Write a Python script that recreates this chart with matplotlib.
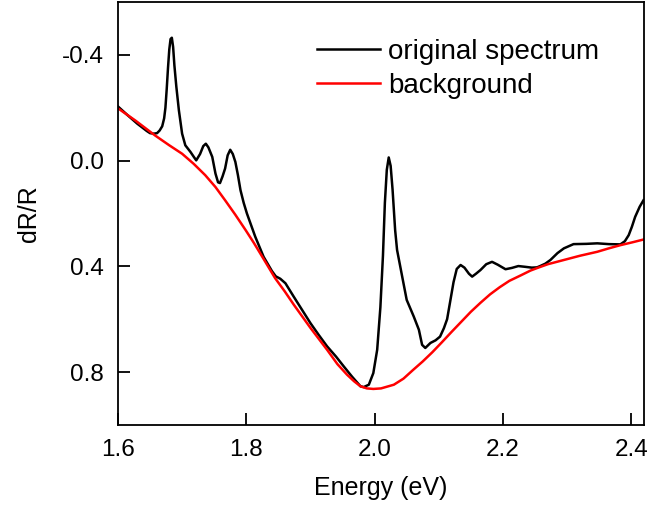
import matplotlib
matplotlib.use('Agg')
import matplotlib.pyplot as plt
import numpy as np

plt.rcParams['font.family'] = ['Liberation Sans', 'DejaVu Sans']

# original spectrum
energy = [1.600, 1.615, 1.630, 1.645, 1.650, 1.656, 1.661, 1.665, 1.669, 1.672,
          1.674, 1.676, 1.678, 1.680, 1.682, 1.684, 1.686, 1.688, 1.691, 1.695,
          1.700, 1.705, 1.713, 1.718, 1.722, 1.728, 1.733, 1.737, 1.741, 1.747,
          1.752, 1.756, 1.759, 1.763, 1.767, 1.771, 1.775, 1.779, 1.783, 1.787,
          1.791, 1.796, 1.801, 1.814, 1.827, 1.840, 1.846, 1.853, 1.861, 1.874,
          1.887, 1.900, 1.913, 1.926, 1.940, 1.952, 1.965, 1.978, 1.983, 1.991,
          1.998, 2.004, 2.009, 2.013, 2.016, 2.019, 2.022, 2.025, 2.028, 2.032,
          2.035, 2.043, 2.050, 2.061, 2.069, 2.074, 2.079, 2.087, 2.095, 2.102,
          2.108, 2.113, 2.118, 2.123, 2.128, 2.134, 2.140, 2.147, 2.152, 2.158,
          2.165, 2.174, 2.183, 2.192, 2.204, 2.214, 2.224, 2.235, 2.245, 2.253,
          2.258, 2.266, 2.274, 2.285, 2.295, 2.310, 2.330, 2.347, 2.365, 2.383,
          2.390, 2.396, 2.401, 2.406, 2.413, 2.419]
spectrum = [-0.205, -0.172, -0.140, -0.112, -0.104, -0.102, -0.104, -0.114, -0.130, -0.160,
            -0.200, -0.270, -0.350, -0.420, -0.460, -0.465, -0.430, -0.360, -0.280, -0.190,
            -0.102, -0.058, -0.033, -0.015, -0.001, -0.025, -0.055, -0.064, -0.050, -0.014,
            0.049, 0.082, 0.085, 0.060, 0.030, -0.020, -0.041, -0.025, 0.005, 0.055,
            0.112, 0.160, 0.200, 0.288, 0.364, 0.418, 0.438, 0.447, 0.464, 0.515,
            0.565, 0.615, 0.660, 0.703, 0.742, 0.779, 0.818, 0.854, 0.857, 0.848,
            0.804, 0.716, 0.555, 0.360, 0.160, 0.035, -0.012, 0.020, 0.110, 0.263,
            0.338, 0.439, 0.527, 0.590, 0.640, 0.697, 0.709, 0.690, 0.680, 0.666,
            0.634, 0.600, 0.530, 0.460, 0.410, 0.395, 0.405, 0.428, 0.439, 0.428,
            0.414, 0.392, 0.383, 0.394, 0.411, 0.406, 0.399, 0.402, 0.405, 0.404,
            0.399, 0.390, 0.376, 0.350, 0.332, 0.316, 0.315, 0.313, 0.316, 0.317,
            0.305, 0.282, 0.250, 0.213, 0.175, 0.150]

# background fit
bg_energy = [1.600, 1.627, 1.658, 1.680, 1.700, 1.718, 1.736, 1.752, 1.767, 1.783,
             1.799, 1.812, 1.825, 1.845, 1.860, 1.874, 1.900, 1.926, 1.942, 1.957,
             1.968, 1.978, 1.988, 1.998, 2.010, 2.030, 2.045, 2.060, 2.075, 2.090,
             2.105, 2.120, 2.135, 2.150, 2.165, 2.180, 2.195, 2.210, 2.228, 2.243,
             2.255, 2.270, 2.295, 2.320, 2.347, 2.365, 2.383, 2.402, 2.420]
background = [-0.198, -0.152, -0.095, -0.058, -0.026, 0.012, 0.055, 0.100, 0.150, 0.205,
              0.263, 0.312, 0.364, 0.445, 0.495, 0.545, 0.633, 0.716, 0.770, 0.810,
              0.835, 0.854, 0.862, 0.864, 0.862, 0.848, 0.825, 0.792, 0.760, 0.725,
              0.687, 0.648, 0.610, 0.572, 0.538, 0.506, 0.479, 0.455, 0.434, 0.416,
              0.405, 0.392, 0.376, 0.360, 0.345, 0.332, 0.320, 0.309, 0.298]

fig = plt.figure(figsize=(6.48, 5.15), dpi=100)
ax = fig.add_axes([0.182, 0.175, 0.812, 0.821])

ax.plot(energy, spectrum, color='black', lw=1.8, label='original spectrum')
ax.plot(bg_energy, background, color='red', lw=1.8, label='background')

ax.set_xlim(1.6, 2.42)
ax.set_ylim(1.0, -0.6)
ax.set_xticks([1.6, 1.8, 2.0, 2.2, 2.4])
ax.set_yticks([-0.4, 0.0, 0.4, 0.8])
ax.set_xticklabels(['1.6', '1.8', '2.0', '2.2', '2.4'])
ax.set_yticklabels(['-0.4', '0.0', '0.4', '0.8'])
ax.tick_params(direction='in', length=8.5, width=1.3, labelsize=17.5, pad=10)
for s in ax.spines.values():
    s.set_linewidth(1.3)

ax.set_xlabel('Energy (eV)', fontsize=18, labelpad=11)
ax.set_ylabel('dR/R', fontsize=18, labelpad=15)

ax.legend(loc='upper left', frameon=False, fontsize=20, handlelength=2.27,
          handletextpad=0.3, labelspacing=0.3, borderpad=0, borderaxespad=0,
          bbox_to_anchor=(0.489, 0.925), bbox_transform=fig.transFigure)

fig.savefig('out.png', dpi=100)
